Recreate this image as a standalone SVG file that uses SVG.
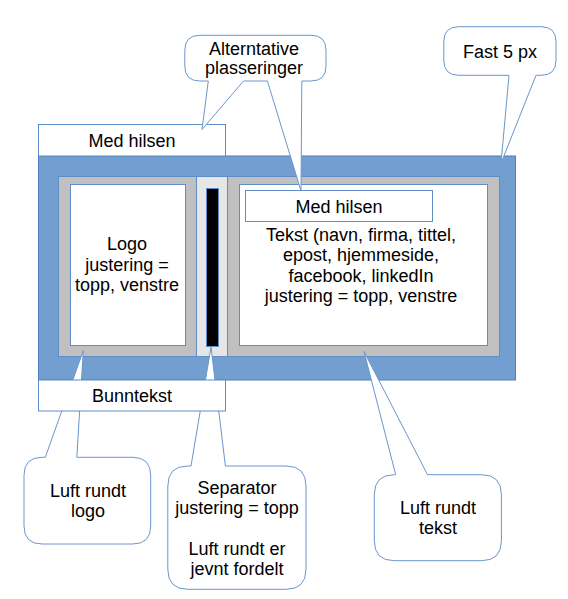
<svg xmlns="http://www.w3.org/2000/svg" width="568" height="599" viewBox="0 0 568 599">
<style>
text{font-family:"Liberation Sans",Arial,sans-serif;font-size:18px;fill:#000;text-anchor:middle}
.box{fill:#fff;stroke:#5f8dc8;stroke-width:1}
.call{fill:#fff;stroke:#6a96cc;stroke-width:1;stroke-linejoin:miter}
</style>
<rect width="568" height="599" fill="#fff"/>
<g id="frame">
<rect x="38.5" y="156" width="477" height="224" fill="#729fcf" stroke="#4f7fbd" stroke-width="1"/>
<rect x="58.5" y="176.5" width="441" height="180" fill="#c0c0c0" stroke="#5f8dc8" stroke-width="1"/>
</g>
<g id="separator">
<rect x="196.5" y="176.5" width="31" height="180" fill="#e6e6e6" stroke="#5f8dc8" stroke-width="1"/>
<rect x="206.5" y="188.5" width="12" height="158" fill="#000" stroke="#5f8dc8" stroke-width="1"/>
</g>
<g id="logo">
<rect class="box" x="70.5" y="184.5" width="115" height="161"/>
<text x="127" y="250">Logo</text>
<text x="127" y="270.5">justering =</text>
<text x="127" y="291">topp, venstre</text>
</g>
<g id="tekst">
<rect class="box" x="239.5" y="184.5" width="248" height="161"/>
<text x="361" y="240.5">Tekst (navn, firma, tittel,</text>
<text x="361" y="261">epost, hjemmeside,</text>
<text x="361" y="281.5">facebook, linkedIn</text>
<text x="361" y="302">justering = topp, venstre</text>
</g>
<g id="medhilsen-inner">
<rect class="box" x="245.5" y="190.5" width="187" height="31"/>
<text x="339" y="212.5">Med hilsen</text>
</g>
<g id="callout-logo">
<path class="call" d="M42,457.3 L45.3,457.3 L83.3,350.5 L76.8,457.3 L132.7,457.3 Q150.7,457.3 150.7,475.3 L150.7,526 Q150.7,544 132.7,544 L42,544 Q24,544 24,526 L24,475.3 Q24,457.3 42,457.3 Z"/>
<text x="88" y="497">Luft rundt</text>
<text x="88" y="517">logo</text>
</g>
<g id="callout-separator">
<path class="call" d="M187.8,466 L191,466 L211,347 L225.4,466 L286,466 Q306,466 306,486 L306,569.3 Q306,589.3 286,589.3 L187.8,589.3 Q167.8,589.3 167.8,569.3 L167.8,486 Q167.8,466 187.8,466 Z"/>
<text x="237" y="493.5">Separator</text>
<text x="237" y="514">justering = topp</text>
<text x="237" y="554.5">Luft rundt er</text>
<text x="237" y="575">jevnt fordelt</text>
</g>
<g id="callout-tekst">
<path class="call" d="M394.3,474.7 L395.7,474.7 L364,351.5 L427.5,474.7 L481.4,474.7 Q501.4,474.7 501.4,494.7 L501.4,540.7 Q501.4,560.7 481.4,560.7 L394.3,560.7 Q374.3,560.7 374.3,540.7 L374.3,494.7 Q374.3,474.7 394.3,474.7 Z"/>
<text x="438" y="514">Luft rundt</text>
<text x="438" y="534">tekst</text>
</g>
<g id="medhilsen-top">
<rect class="box" x="38.5" y="124.5" width="187" height="31.5"/>
<text x="132" y="147">Med hilsen</text>
</g>
<g id="bunntekst">
<rect class="box" x="38.5" y="380" width="187" height="31"/>
<text x="132" y="402">Bunntekst</text>
</g>
<g id="callout-alternative">
<path class="call" d="M199.8,35.3 L311,35.3 Q326,35.3 326,50.3 L326,66 Q326,81 311,81 L301.8,81 L301,191 L267.4,81 L243.5,81 L202,129.5 L208.3,81 L199.8,81 Q184.8,81 184.8,66 L184.8,50.3 Q184.8,35.3 199.8,35.3 Z"/>
<text x="254" y="54.5">Alterntative</text>
<text x="254" y="74">plasseringer</text>
</g>
<g id="callout-fast">
<path class="call" d="M458.8,26.7 L541,26.7 Q556,26.7 556,41.7 L556,60.3 Q556,75.3 541,75.3 L536,75.3 L501,163.3 L509,75.3 L458.8,75.3 Q443.8,75.3 443.8,60.3 L443.8,41.7 Q443.8,26.7 458.8,26.7 Z"/>
<text x="500" y="57.5">Fast 5 px</text>
</g>
</svg>
